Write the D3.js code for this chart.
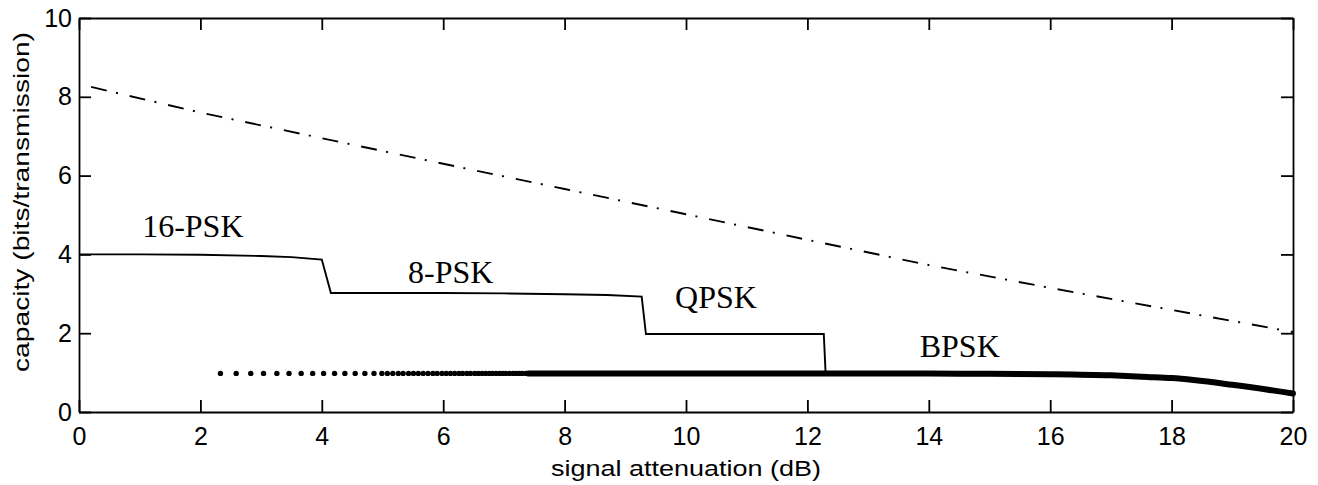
<!DOCTYPE html>
<html>
<head>
<meta charset="utf-8">
<script src="https://cdn.jsdelivr.net/npm/d3@7"></script>
<style>
  html, body { margin: 0; padding: 0; background: #fff; }
  svg { display: block; font-family: "Liberation Sans", Arial, Helvetica, sans-serif; }
</style>
</head>
<body>
<div id="chart"></div>
<script>
// Values (signal attenuation in dB vs capacity)
const xTicks = [0, 2, 4, 6, 8, 10, 12, 14, 16, 18, 20];
const yTicks = [0, 2, 4, 6, 8, 10];

// Shannon bound (dash-dot)
const shannonDb  = [0.2, 2, 4, 6, 8, 10, 12, 14, 16, 18, 20];
const shannonCap = [8.25, 7.6, 6.95, 6.3, 5.66, 5.02, 4.37, 3.73, 3.15, 2.59, 2.03];

// adaptive PSK staircase (thin solid)
const pskDb  = [0, 1, 2, 3, 3.5, 4.0, 4.15, 6, 7, 8, 8.7, 9.27, 9.34, 12.27, 12.3];
const pskCap = [4.0, 4.0, 3.99, 3.96, 3.93, 3.87, 3.02, 3.02, 3.01, 2.99, 2.97, 2.93, 1.98, 1.98, 0.98];

// BPSK dotted part (markers)
const bpskDotDb = [2.33, 2.59, 2.83, 3.04, 3.26, 3.46, 3.66, 3.85, 4.03, 4.21, 4.38, 4.55,
  4.71, 4.86, 4.99, 5.08, 5.17, 5.26, 5.34, 5.43, 5.51, 5.59, 5.67, 5.75, 5.83, 5.90, 5.98,
  6.05, 6.12, 6.19, 6.26, 6.32, 6.39, 6.45, 6.52, 6.58, 6.64, 6.70, 6.76, 6.81, 6.87, 6.93,
  6.98, 7.03, 7.09, 7.15, 7.20, 7.25, 7.30, 7.36];
const bpskDotCap = 0.98;

// BPSK thick part
const bpskDb  = [7.4, 10, 12.3, 14, 15, 16, 17, 17.6, 18, 19, 20];
const bpskCap = [0.98, 0.98, 0.98, 0.975, 0.97, 0.96, 0.93, 0.89, 0.86, 0.69, 0.47];

const labels = [
  { text: '16-PSK', x: 1.04, y: 4.44 },
  { text: '8-PSK', x: 5.42, y: 3.27 },
  { text: 'QPSK', x: 9.82, y: 2.64 },
  { text: 'BPSK', x: 13.85, y: 1.40 },
];

const width = 1318, height = 485;
const margin = { top: 18, right: 25, bottom: 73, left: 79 };

const svg = d3.select('#chart').append('svg')
  .attr('width', width)
  .attr('height', height);

const x = d3.scaleLinear().domain([0, 20]).range([margin.left, width - margin.right]);
const y = d3.scaleLinear().domain([0, 10]).range([height - margin.bottom, margin.top]);

// Axes: box with inward ticks on all four sides
function styleAxis(g) {
  g.selectAll('path.domain').attr('stroke', '#000').attr('stroke-width', 1.8);
  g.selectAll('.tick line').attr('stroke', '#000').attr('stroke-width', 1.8);
  g.selectAll('.tick text').attr('fill', '#000').attr('font-size', 25);
}

svg.append('g')
  .attr('transform', `translate(0,${y(0)})`)
  .call(d3.axisBottom(x).tickValues(xTicks).tickSize(-12).tickSizeOuter(0).tickPadding(15))
  .call(styleAxis);

svg.append('g')
  .attr('transform', `translate(0,${y(10)})`)
  .call(d3.axisTop(x).tickValues(xTicks).tickSize(-12).tickSizeOuter(0).tickFormat(''))
  .call(styleAxis);

svg.append('g')
  .attr('transform', `translate(${x(0)},0)`)
  .call(d3.axisLeft(y).tickValues(yTicks).tickSize(-12).tickSizeOuter(0).tickPadding(7))
  .call(styleAxis);

svg.append('g')
  .attr('transform', `translate(${x(20)},0)`)
  .call(d3.axisRight(y).tickValues(yTicks).tickSize(-12).tickSizeOuter(0).tickFormat(''))
  .call(styleAxis);

// Axis titles
svg.append('text')
  .attr('x', (x(0) + x(20)) / 2)
  .attr('y', 476)
  .attr('text-anchor', 'middle')
  .attr('font-size', 22)
  .attr('textLength', 270)
  .attr('lengthAdjust', 'spacingAndGlyphs')
  .text('signal attenuation (dB)');

svg.append('text')
  .attr('transform', 'translate(29,202) rotate(-90)')
  .attr('text-anchor', 'middle')
  .attr('font-size', 22)
  .attr('textLength', 340)
  .attr('lengthAdjust', 'spacingAndGlyphs')
  .text('capacity (bits/transmission)');

const line = d3.line().x((d) => x(d[0])).y((d) => y(d[1]));

// Shannon capacity, dash-dot
svg.append('path')
  .datum(d3.zip(shannonDb, shannonCap))
  .attr('fill', 'none')
  .attr('stroke', '#000')
  .attr('stroke-width', 1.9)
  .attr('stroke-dasharray', '16,9.5,2,12')
  .attr('d', line);

// PSK staircase
svg.append('path')
  .datum(d3.zip(pskDb, pskCap))
  .attr('fill', 'none')
  .attr('stroke', '#000')
  .attr('stroke-width', 1.9)
  .attr('stroke-linejoin', 'miter')
  .attr('d', line);

// BPSK thick curve
svg.append('path')
  .datum(d3.zip(bpskDb, bpskCap))
  .attr('fill', 'none')
  .attr('stroke', '#000')
  .attr('stroke-width', 6)
  .attr('stroke-linecap', 'round')
  .attr('d', line.curve(d3.curveMonotoneX));

// BPSK dots
svg.append('g')
  .selectAll('circle')
  .data(bpskDotDb)
  .enter()
  .append('circle')
  .attr('cx', (d) => x(d))
  .attr('cy', y(bpskDotCap))
  .attr('r', 2.7)
  .attr('fill', '#000');

// Modulation labels
svg.append('g')
  .selectAll('text')
  .data(labels)
  .enter()
  .append('text')
  .attr('x', (d) => x(d.x))
  .attr('y', (d) => y(d.y))
  .attr('font-family', '"Liberation Serif", "Times New Roman", Times, serif')
  .attr('font-size', 32)
  .attr('fill', '#000')
  .text((d) => d.text);
</script>
</body>
</html>
